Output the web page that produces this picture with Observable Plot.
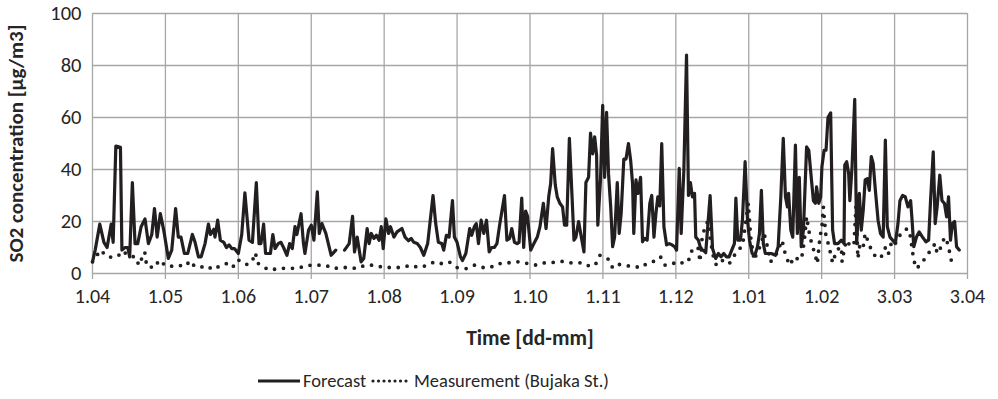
<!DOCTYPE html>
<html><head><meta charset="utf-8">
<script src="https://cdn.jsdelivr.net/npm/d3@7"></script>
<script src="https://cdn.jsdelivr.net/npm/@observablehq/plot@0.6"></script>
<style>
body{margin:0;background:#fff;font-family:Carlito,Calibri,Lato,sans-serif;}
#chart svg{display:block;}
#legend{position:relative;height:43px;font-size:18.5px;color:#262626;}
#legend .item{position:absolute;top:3px;height:43px;display:flex;align-items:center;white-space:nowrap;}
#legend svg{margin-right:2px;}
</style></head><body>
<div id="chart"></div>
<div id="legend">
  <div class="item" style="left:257px"><svg width="44" height="10"><line x1="1" y1="5" x2="43" y2="5" stroke="#231f20" stroke-width="3.2"/></svg>Forecast</div>
  <div class="item" style="left:370px"><svg width="42" height="10"><line x1="3" y1="5" x2="40" y2="5" stroke="#231f20" stroke-width="3.2" stroke-dasharray="0 5.5" stroke-linecap="round"/></svg>Measurement (Bujaka St.)</div>
</div>
<script>
const tickLabels = ["1.04","1.05","1.06","1.07","1.08","1.09","1.10","1.11","1.12","1.01","1.02","3.03","3.04"];
const tickDays = [0,30,60,90,120,150,180,210,240,270,300,330,360];
const yTicks = [0,20,40,60,80,100];

const forecastDay = [0,1.1,3,4.7,6,7.7,8.5,9.6,11.5,12.1,13.4,14.5,15.3,16.4,17.5,18.6,20,21.6,23,24.4,25.5,26.6,27.9,29.3,31.2,32.6,34.2,35.3,36.4,37.8,39.2,41.1,42.2,43.6,44.7,46.3,47.7,48.5,49.9,50.4,51.5,52.6,54,55.1,56.2,57.3,58.4,60,61.4,62.7,64.4,65.8,67.4,68.5,69.3,70.4,71.2,73.2,74.2,75.1,76.4,77.5,78.6,80,81.1,82.2,83.3,84.1,85.8,86.8,87.4,88.9,90,91.1,92.5,93.3,94.4,96,98.2,100.1,101.9,103.7,105.6,107,107.8,108.9,110.5,111.6,113,113.8,114.7,115.8,116.8,117.9,118.8,119.6,120.7,121.8,122.6,124,125.3,127.3,128.6,130,131.1,132.2,133.6,134.9,136.3,137.9,140.1,141.2,142.3,143.7,144.5,145.6,146.7,148.1,148.9,150,151.4,152.2,153.6,155.2,156,157.1,157.9,158.8,159.9,161,162.1,163.2,164.2,165.3,166.4,167.5,169.5,170.5,171.6,172.5,173.6,174.7,175.5,176.6,177.4,178.2,179,180.3,181.6,183,184.1,185.5,186.6,187.7,188.5,189.3,190.4,191.2,192.3,193.4,194.2,195.1,196.2,197.3,198.1,198.9,200,201.1,202.2,203,204.1,204.9,205.8,206.6,207.4,207.9,209,209.9,210.7,211.5,212.3,213.2,214,214.8,215.9,216.7,217.5,218.6,219.5,220.5,221.4,222.2,222.7,223.6,224.4,225.5,226.3,227.1,228.2,229.3,230.1,231,231.8,232.6,233.4,234.2,235.1,236.2,237.3,238.4,239.5,240.3,241.4,242.2,243.3,244.4,245.2,246,246.8,247.7,248.2,249.3,250.4,251.2,252.3,254.1,255.1,256.4,257.5,258.6,259.7,260.8,261.9,263,264.1,264.7,265.5,266.6,267.4,268.5,269.5,270.3,271.4,272.5,273.6,274.4,275.2,276,276.8,277.9,279.3,281,282.1,283.2,284.2,285.1,285.9,286.4,287.3,288.1,289.2,290,290.8,291.6,292.5,293.8,294.7,295.8,296.6,297.4,297.9,298.8,299.6,300.1,301,301.8,302.6,303.7,304.5,305.3,306.7,308.1,309.2,309.5,310.3,311.1,311.6,312.5,313.6,314.4,315.5,316.3,317.1,317.9,318.8,319.6,320.4,321.2,322.1,323.2,324.2,325.3,326.2,327,328.1,329.2,330.3,331.4,332.2,333.3,334.4,335.5,336.6,337.1,337.9,339,340.1,341.5,342.9,344,344.8,345.9,346.7,347.5,348.6,349.5,350.5,351.4,352.2,353,353.8,354.7,355.5,356.6];
const forecastValue = [4.5,9,19,12,10,19,12,49,48.5,9,10,10,6.4,35,11.5,11.5,18,21,11.5,15,25,14,23,16.7,5.8,9,25,14,14,7.7,7.7,15,12,6.4,6.4,11.5,19,15,17,14,20.5,12.8,12,10,11,9.6,9.6,7.7,15,31,12.8,12,35,11.5,11.5,19,7.7,7.7,15,9.6,11.5,12,10,7,11.5,9.6,18,15,23,11.5,7.7,16.7,18.6,12.8,31.4,15.4,19.2,15.4,7,9,null,9,11.5,22,8.3,14,4.5,5.8,17.3,11.5,15.4,13.5,14.7,12.8,18,9.6,21,15.4,18,14,16,17.3,14,12.6,13.5,12,11.5,10,7,11.5,30,19.2,12,11.5,9,14.7,14,28,14,12,6.4,5,7.7,17.3,14.7,18,19.2,11.5,20.5,15.4,20.5,8.3,10,10,11.5,18.6,30,12.8,13.5,17.3,12,11.5,12,29,10,24,22,9,11.5,14,18,27,17.3,29.5,34.6,48,34,29.5,27,25.6,18.6,18.6,52,29.5,12.8,14,20,14,8.3,35,37,54,46,52.6,45.5,18.6,36,64.7,37,62,38.5,25.6,10.3,14,35,15.4,23,44,44,50,43.6,34.6,15.4,36,30.8,37,12.2,13.5,12.8,27,30,14,23,29.5,26,50,18,11,11.5,11,10.3,9,40.4,15.4,39.7,84,30,35,29.5,30.8,14,12.8,9,9,8,30,9.6,5.8,7.7,6.4,7.7,6.4,6.4,9,11.5,29,12.8,12.8,20.5,43,20.5,12.8,7.7,7,10.3,15.4,32,11.5,7.7,7.7,7.7,7,10.3,29.5,52,29.5,25.6,30.8,16.7,14,49.4,15.4,37,10.3,16.7,48.7,47.4,36,28,27,33.3,27,29.5,41,47.4,47.4,60,61.8,16.7,11.5,11.5,12.8,11.5,41.7,43,38.5,28,41,67,11.5,30.8,16.7,24.4,36,36.5,32,45,42.3,32,20.5,15.4,14,51.3,18,14,12.8,11.5,19.2,28,30,29.5,25.6,28,21.8,10.3,14,16,14,12.2,12.8,28,46.8,19.2,25.6,37.8,28,27,21.8,29.5,12.8,19.2,20,10.3,9];

const measDay = [0,1.4,3.3,6,8.4,10.4,12.5,14.5,18,19,21.5,22.3,25.6,27,27.7,30,32.6,34.6,38.4,40,42,44,47,49.5,53,55,57.7,59,60.6,63.5,65.6,67,68,70,73,77,81,84.5,88,91.6,95.8,99.2,102.6,105.6,108.8,112.2,116,119.7,123.4,127.3,131.1,134.1,138,140.7,143.7,146.7,150,153.8,157.1,160.1,163.7,166.7,169.7,173.2,176.3,179.2,182.7,186,189,192.9,195.9,198.9,201.9,204.9,207.1,208.8,211,212.3,214,216.2,218.9,222.7,225.5,228.5,231.8,233.7,235.6,238.4,240.8,242.5,245.2,245.8,247.9,249.3,249.9,250.7,252.1,253.2,254.2,255.6,256.7,258.9,260.3,261.9,263.6,265.8,267.5,269.8,270.8,272.2,273.8,274.7,276.3,277.7,279,281.5,283.7,285.3,287,288.6,291.1,292.2,293,293.8,295.2,296.3,297.4,298.2,299.3,300.1,300.7,301.8,302.9,304.5,306.2,308.1,308.4,309.5,310.3,311.9,313.3,314.1,314.9,315.8,317.1,317.9,319.9,321.2,322.9,324.5,326.4,327.5,328.6,329.7,331.6,333.3,335.2,336.3,337.1,337.9,339,341,343.4,346.7,347.5,349.2,350.5,351.9,353.6,355.2];
const measValue = [4.5,6.4,9,6.5,6.2,6.6,8.7,7,6.2,3.2,8.3,2.8,2.2,4.5,3.2,4,2.8,3.2,2.8,4.9,2.8,2.3,3,1.5,3.2,3.8,2.3,4.9,5.1,3.5,4.5,8,4,2.6,1.3,2,2,2,3.1,3.2,3.2,1.9,2.3,2.3,1.9,3.2,3.2,2.3,2.3,2.3,3.2,2.3,3.2,4.5,3.8,4.5,2.3,1.9,3.2,2.3,2.3,3.8,3.8,4.5,4.5,3.8,3.2,4.1,4.2,4.7,4.1,4.1,4.1,2.6,3.8,7,5.8,5.5,2.2,3.6,3,2.8,2.2,4.1,4.9,6.4,3.2,3.6,4.7,4.1,4.5,7.7,10.3,9.6,4.5,12.8,18.6,20,12.8,5.8,3.2,5.1,4.5,3.6,6.4,9,11,27,14,5.1,9,10.3,15.4,10.3,4.5,7.7,12.8,6.4,3.2,6.4,5.1,7.7,14,21.8,14,10.3,7,3.8,14,18,25.6,14,11,4.1,9,10.3,4.5,10.3,12.8,10.3,11.5,25.6,5.8,11.5,10.3,15.4,10.3,7.7,5.8,6.4,10.3,7.7,11.5,10.3,14,16,17.3,15.4,10.3,5.1,1.9,3.8,7,11.5,7.7,10.3,14,11.5,3.8,4.5];

const forecast = forecastDay.map((d,i)=>({day:d, value:forecastValue[i]}));
const measurement = measDay.map((d,i)=>({day:d, value:measValue[i]}));

const grid = "#a6a6a6";
const ink = "#231f20";
const txt = "#262626";
const font = "Carlito, Calibri, Lato, sans-serif";

const chart = Plot.plot({
  width: 998,
  height: 356,
  marginLeft: 92,
  marginRight: 31,
  marginTop: 13,
  marginBottom: 83,
  style: {fontFamily: font, color: txt, background: "#fff"},
  x: {domain: [0, 360]},
  y: {domain: [0, 100]},
  marks: [
    Plot.gridY(yTicks, {stroke: grid, strokeOpacity: 1, strokeWidth: 1.3}),
    Plot.gridX(tickDays, {stroke: grid, strokeOpacity: 1, strokeWidth: 1.3}),
    Plot.axisX({ticks: tickDays, tickFormat: (d, i) => tickLabels[i], tickSize: 6, tickPadding: 9, fontSize: 20, stroke: grid, strokeWidth: 1.3, strokeOpacity: 1, label: null}),
    Plot.axisY({ticks: yTicks, tickSize: 0, tickPadding: 11, fontSize: 20.5, label: null}),
    Plot.line(measurement, {x: "day", y: "value", stroke: ink, strokeWidth: 3.8, strokeDasharray: "0 9", strokeLinecap: "round"}),
    Plot.line(forecast, {x: "day", y: "value", stroke: ink, strokeWidth: 3.2, strokeLinejoin: "round"}),
    Plot.text(["SO2 concentration [µg/m3]"], {frameAnchor: "left", rotate: -90, textAnchor: "middle", lineAnchor: "middle", dx: -76, fontSize: 21, fontWeight: "bold", fill: txt}),
    Plot.text(["Time [dd-mm]"], {frameAnchor: "bottom", lineAnchor: "middle", dy: 65, fontSize: 21.5, fontWeight: "bold", fill: txt})
  ]
});
document.getElementById("chart").appendChild(chart);
</script>
</body></html>
